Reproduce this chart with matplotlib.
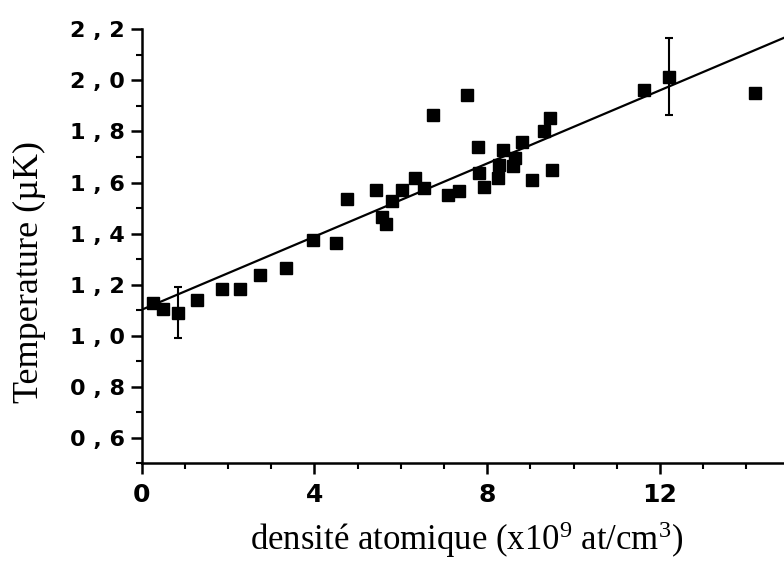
import numpy as np
import matplotlib
matplotlib.use("Agg")
import matplotlib.pyplot as plt
from matplotlib.ticker import MultipleLocator, FuncFormatter

# density (x1e9 at/cm3) and temperature (uK)
density = [0.27, 0.50, 0.85, 1.29, 1.87, 2.28, 2.75, 3.34, 3.96, 4.50,
           4.75, 5.42, 5.57, 5.66, 5.79, 6.03, 6.33, 6.53, 6.74, 7.09,
           7.35, 7.52, 7.78, 7.81, 7.92, 8.25, 8.27, 8.36, 8.60, 8.64,
           8.80, 9.03, 9.32, 9.45, 9.50, 11.63, 12.20, 14.21]
temperature = [1.130, 1.105, 1.091, 1.141, 1.183, 1.183, 1.239, 1.265, 1.376, 1.363,
               1.537, 1.571, 1.467, 1.437, 1.526, 1.571, 1.617, 1.578, 1.865, 1.552,
               1.567, 1.943, 1.741, 1.639, 1.582, 1.619, 1.669, 1.728, 1.666, 1.695,
               1.758, 1.610, 1.803, 1.853, 1.650, 1.963, 2.015, 1.952]

# the two points that carry an error bar
err_density = [0.85, 12.20]
err_temperature = [1.091, 2.015]
err_size = [0.10, 0.15]

# linear fit drawn in the figure
fit_intercept = 1.102
fit_slope = 0.0716

x_max = 14.87

plt.rcParams["mathtext.fontset"] = "custom"
plt.rcParams["mathtext.rm"] = "Liberation Serif"
plt.rcParams["mathtext.it"] = "Liberation Serif:italic"

fig = plt.figure(figsize=(7.84, 5.61), dpi=100)
ax = fig.add_axes([0.1807, 0.1738, 1.0 - 0.1807, 0.9478 - 0.1738])

ax.plot(density, temperature, ls="none", marker="s", ms=8.5, color="black",
        zorder=3)
ax.errorbar(err_density, err_temperature, yerr=err_size, fmt="none",
            ecolor="black", elinewidth=1.5, capsize=3, capthick=1.5, zorder=2)

fit_x = np.array([0.0, x_max])
ax.plot(fit_x, fit_intercept + fit_slope * fit_x, color="black", lw=1.6)

ax.set_xlim(0, x_max)
ax.set_ylim(0.5, 2.2)

ax.spines["top"].set_visible(False)
ax.spines["right"].set_visible(False)
for side in ("left", "bottom"):
    ax.spines[side].set_linewidth(1.8)

ax.xaxis.set_major_locator(MultipleLocator(4))
ax.xaxis.set_minor_locator(MultipleLocator(1))
ax.yaxis.set_minor_locator(MultipleLocator(0.1))
ax.set_yticks(np.arange(0.6, 2.21, 0.2))

# french decimal comma, spaced out like the original
ax.yaxis.set_major_formatter(FuncFormatter(
    lambda v, p: f"{v:.1f}".replace(".", " , ")))
ax.xaxis.set_major_formatter(FuncFormatter(lambda v, p: f"{v:.0f}"))

ax.tick_params(which="major", direction="out", length=8, width=1.8)
ax.tick_params(which="minor", direction="out", length=4, width=1.5)
ax.tick_params(axis="y", which="major", pad=4)
ax.tick_params(axis="x", which="major", pad=6)
for lab in ax.get_yticklabels():
    lab.set_fontweight("bold")
    lab.set_family("DejaVu Sans")
    lab.set_fontsize(16)
for lab in ax.get_xticklabels():
    lab.set_fontweight("bold")
    lab.set_family("DejaVu Sans")
    lab.set_fontsize(18)

ax.set_xlabel("densité atomique (x10$^9$ at/cm$^3$)", family="Liberation Serif",
              fontsize=25)
ax.xaxis.label.set_va("center")
ax.xaxis.set_label_coords(0.5065, -0.176)
ax.set_ylabel("Temperature (µK)", family="Liberation Serif", fontsize=26)
ax.yaxis.label.set_va("center")
ax.yaxis.set_label_coords(-0.174, 0.44)

fig.savefig("out.png", dpi=100)
